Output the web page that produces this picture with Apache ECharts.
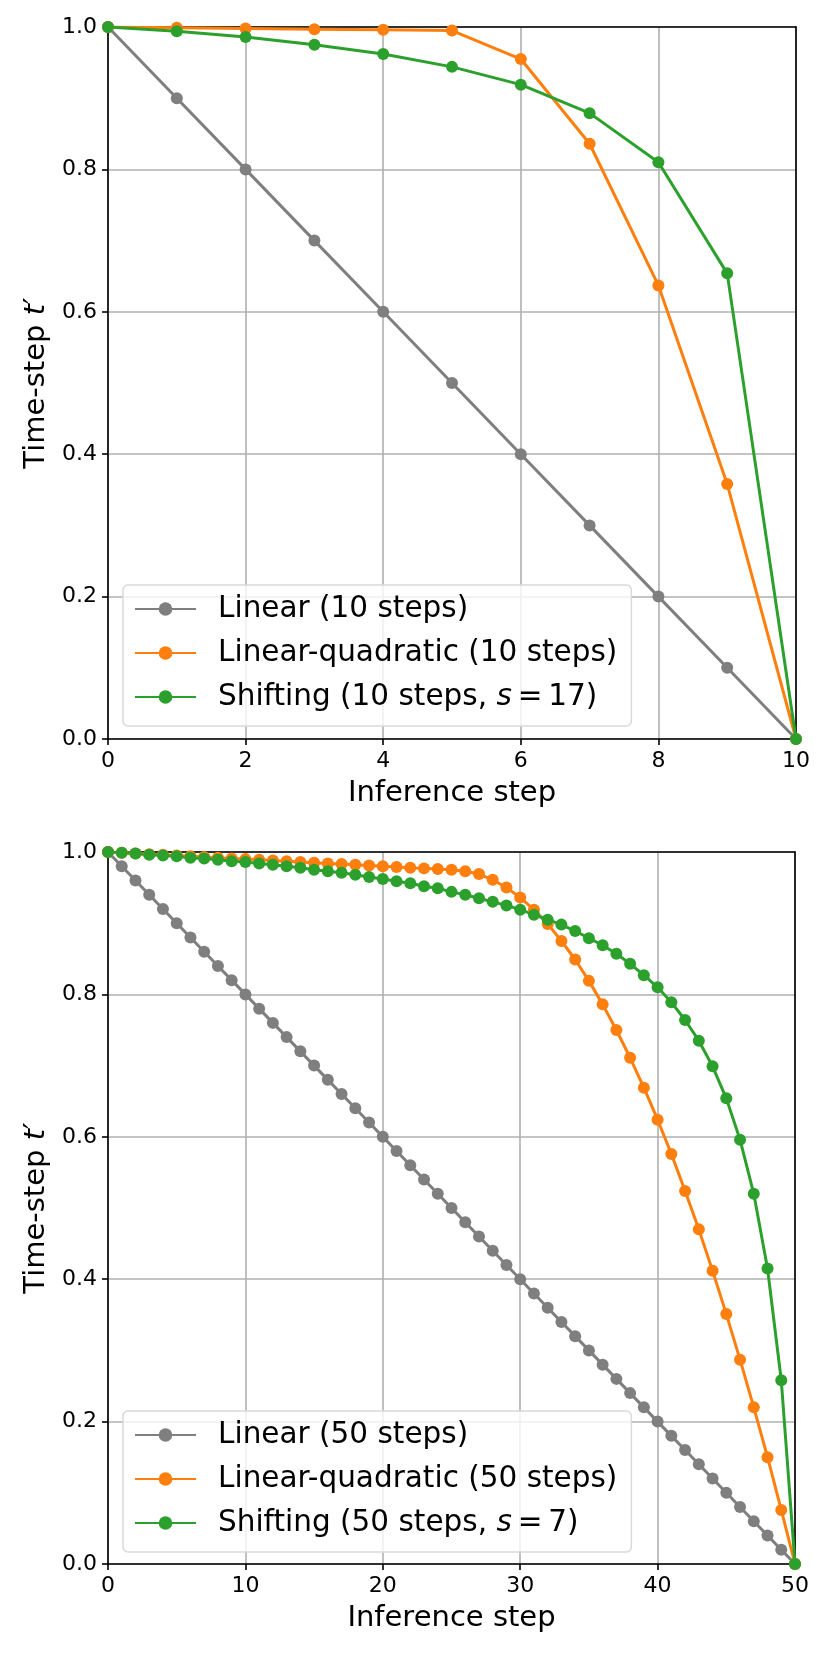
<!DOCTYPE html>
<html>
<head>
<meta charset="utf-8">
<script src="https://cdn.jsdelivr.net/npm/echarts@6/dist/echarts.min.js"></script>
<style>
  html, body { margin: 0; padding: 0; background: #fff; }
  #chart { width: 830px; height: 1653px; }
</style>
</head>
<body>
<div id="chart"></div>
<script>
// 10-step schedules (top panel)
var steps10 = [0, 1, 2, 3, 4, 5, 6, 7, 8, 9, 10];
var linear10 = [1.0, 0.9, 0.8, 0.7, 0.6, 0.5, 0.4, 0.3, 0.2, 0.1, 0.0];
var linQuad10 = [1.0, 0.999, 0.998, 0.997, 0.996, 0.995, 0.955, 0.836, 0.637, 0.358, 0.0];
var shift10 = [1.0, 0.994, 0.986, 0.975, 0.962, 0.944, 0.919, 0.879, 0.810, 0.654, 0.0];

// 50-step schedules (bottom panel)
var steps50 = [0, 1, 2, 3, 4, 5, 6, 7, 8, 9, 10, 11, 12, 13, 14, 15, 16, 17, 18, 19, 20,
  21, 22, 23, 24, 25, 26, 27, 28, 29, 30, 31, 32, 33, 34, 35, 36, 37, 38, 39, 40,
  41, 42, 43, 44, 45, 46, 47, 48, 49, 50];
var linear50 = [1.00, 0.98, 0.96, 0.94, 0.92, 0.90, 0.88, 0.86, 0.84, 0.82, 0.80,
  0.78, 0.76, 0.74, 0.72, 0.70, 0.68, 0.66, 0.64, 0.62, 0.60,
  0.58, 0.56, 0.54, 0.52, 0.50, 0.48, 0.46, 0.44, 0.42, 0.40,
  0.38, 0.36, 0.34, 0.32, 0.30, 0.28, 0.26, 0.24, 0.22, 0.20,
  0.18, 0.16, 0.14, 0.12, 0.10, 0.08, 0.06, 0.04, 0.02, 0.00];
var linQuad50 = [1.000, 0.999, 0.998, 0.997, 0.996, 0.995, 0.994, 0.993, 0.992, 0.991, 0.990,
  0.989, 0.988, 0.987, 0.986, 0.985, 0.984, 0.983, 0.982, 0.981, 0.980,
  0.979, 0.978, 0.977, 0.976, 0.975, 0.973, 0.969, 0.961, 0.950, 0.936,
  0.919, 0.899, 0.875, 0.849, 0.819, 0.786, 0.750, 0.711, 0.669, 0.624,
  0.576, 0.524, 0.470, 0.412, 0.351, 0.287, 0.220, 0.150, 0.076, 0.0];
var shift50 = [1.000, 0.999, 0.998, 0.996, 0.995, 0.994, 0.992, 0.991, 0.989, 0.987, 0.986,
  0.984, 0.982, 0.980, 0.978, 0.975, 0.973, 0.971, 0.968, 0.965, 0.962,
  0.959, 0.956, 0.952, 0.949, 0.944, 0.940, 0.935, 0.930, 0.925, 0.919,
  0.912, 0.905, 0.898, 0.889, 0.879, 0.869, 0.857, 0.843, 0.827, 0.810,
  0.789, 0.764, 0.735, 0.699, 0.654, 0.596, 0.520, 0.415, 0.258, 0.0];

var names10 = ['Linear (10 steps)', 'Linear-quadratic (10 steps)', 'Shifting (10 steps, s = 17)'];
var names50 = ['Linear (50 steps)', 'Linear-quadratic (50 steps)', 'Shifting (50 steps, s = 7)'];
var colors = ['#7f7f7f', '#ff7f0e', '#2ca02c'];

var FONT = 'DejaVu Sans';

function pairs(xs, ys) {
    return xs.map(function (x, i) { return [x, ys[i]]; });
}

function makeX(idx, max, interval) {
    return {
        type: 'value', gridIndex: idx, min: 0, max: max, interval: interval,
        name: 'Inference step', nameLocation: 'middle', nameGap: 40,
        nameTextStyle: { fontFamily: FONT, fontSize: 29, color: '#000' },
        axisLine: { show: true, onZero: false, lineStyle: { color: '#000', width: 1.6 } },
        axisTick: { show: true, length: 6, lineStyle: { color: '#000', width: 1.6 } },
        axisLabel: { fontFamily: FONT, fontSize: 22, color: '#000', margin: 11 },
        splitLine: { show: true, lineStyle: { color: '#b0b0b0', width: 1.6 } }
    };
}

function makeY(idx) {
    return {
        type: 'value', gridIndex: idx, min: 0, max: 1, interval: 0.2,
        name: 'Time-step {i|t}′', nameLocation: 'middle', nameGap: 53, nameRotate: 90,
        nameTextStyle: {
            fontFamily: FONT, fontSize: 29, color: '#000',
            rich: { i: { fontFamily: FONT, fontSize: 29, fontStyle: 'italic', color: '#000' } }
        },
        axisLine: { show: true, onZero: false, lineStyle: { color: '#000', width: 1.6 } },
        axisTick: { show: true, length: 6, lineStyle: { color: '#000', width: 1.6 } },
        axisLabel: {
            fontFamily: FONT, fontSize: 22, color: '#000', margin: 11,
            formatter: function (v) { return v.toFixed(1); }
        },
        splitLine: { show: true, lineStyle: { color: '#b0b0b0', width: 1.6 } }
    };
}

// plain axes on the top / right edge, only to draw the black frame
function frameX(idx, max) {
    return {
        type: 'value', gridIndex: idx, min: 0, max: max, position: 'top',
        axisLine: { show: true, onZero: false, lineStyle: { color: '#000', width: 1.6 } },
        axisTick: { show: false }, axisLabel: { show: false }, splitLine: { show: false }
    };
}

function frameY(idx) {
    return {
        type: 'value', gridIndex: idx, min: 0, max: 1, position: 'right',
        axisLine: { show: true, onZero: false, lineStyle: { color: '#000', width: 1.6 } },
        axisTick: { show: false }, axisLabel: { show: false }, splitLine: { show: false }
    };
}

function makeLegend(top, names) {
    return {
        orient: 'vertical', left: 123, top: top,
        data: names,
        itemWidth: 61, itemHeight: 17, itemGap: 12,
        padding: [8, 14, 13, 11],
        backgroundColor: 'rgba(255,255,255,0.8)',
        borderColor: '#d9d9d9', borderWidth: 1.5, borderRadius: 5,
        textStyle: {
            fontFamily: FONT, fontSize: 29.5, color: '#000', lineHeight: 32,
            padding: [0, 0, 0, 17],
            rich: { i: { fontFamily: FONT, fontSize: 29.5, fontStyle: 'italic', color: '#000', lineHeight: 32 } }
        },
        // math-style "s = n": italic s, thin spaces round the equals sign
        formatter: function (name) { return name.replace(' s = ', ' {i|s}\u2009=\u2009'); }
    };
}

function makeSeries(name, idx, data, color) {
    return {
        name: name, type: 'line', xAxisIndex: idx, yAxisIndex: idx,
        data: data, symbol: 'circle', symbolSize: 12, showSymbol: true,
        lineStyle: { color: color, width: 3 },
        itemStyle: { color: color },
        emphasis: { disabled: true },
        animation: false
    };
}

var chart = echarts.init(document.getElementById('chart'), null, { renderer: 'canvas' });

var option = {
    backgroundColor: '#fff',
    animation: false,
    grid: [
        { left: 108, top: 27, width: 688, height: 712 },
        { left: 108, top: 852, width: 687, height: 712 }
    ],
    xAxis: [makeX(0, 10, 2), makeX(1, 50, 10), frameX(0, 10), frameX(1, 50)],
    yAxis: [makeY(0), makeY(1), frameY(0), frameY(1)],
    legend: [makeLegend(585, names10), makeLegend(1411, names50)],
    series: [
        makeSeries(names10[0], 0, pairs(steps10, linear10), colors[0]),
        makeSeries(names10[1], 0, pairs(steps10, linQuad10), colors[1]),
        makeSeries(names10[2], 0, pairs(steps10, shift10), colors[2]),
        makeSeries(names50[0], 1, pairs(steps50, linear50), colors[0]),
        makeSeries(names50[1], 1, pairs(steps50, linQuad50), colors[1]),
        makeSeries(names50[2], 1, pairs(steps50, shift50), colors[2])
    ]
};

chart.setOption(option);
</script>
</body>
</html>
